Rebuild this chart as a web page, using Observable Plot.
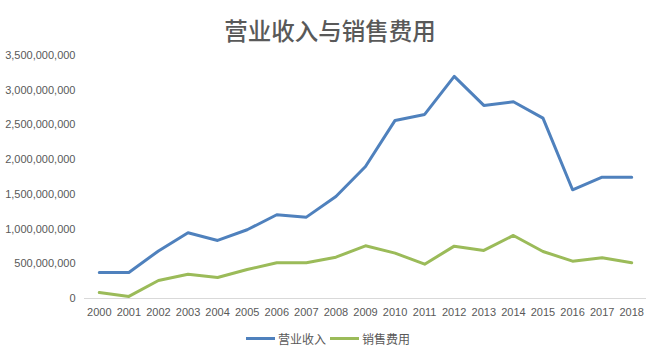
<!DOCTYPE html>
<html>
<head>
<meta charset="utf-8">
<script src="https://cdn.jsdelivr.net/npm/d3@7"></script>
<script src="https://cdn.jsdelivr.net/npm/@observablehq/plot@0.6"></script>
<style>
  html, body { margin: 0; padding: 0; background: #fff; }
  #wrap { width: 656px; height: 354px; position: relative; overflow: hidden; font-family: "Liberation Sans", "Noto Sans CJK SC", sans-serif; }
  #title { position: absolute; left: 0; top: 14px; width: 660px; text-align: center; font-family: "Noto Sans CJK SC", sans-serif; font-size: 23.5px; font-weight: 500; color: #595959; line-height: 32px; }
  #chart { position: absolute; left: 0; top: 45px; }
  #legend { position: absolute; left: 0; top: 330px; width: 656px; display: flex; justify-content: center; align-items: center; font-family: "Noto Sans CJK SC", sans-serif; font-size: 12px; color: #595959; }
  .item { display: flex; align-items: center; margin: 0 2px; }
  .sw { width: 29px; height: 3px; margin-right: 3px; }
</style>
</head>
<body>
<div id="wrap">
  <div id="title">营业收入与销售费用</div>
  <div id="chart"></div>
  <div id="legend"></div>
</div>
<script>
const years = ["2000","2001","2002","2003","2004","2005","2006","2007","2008","2009","2010","2011","2012","2013","2014","2015","2016","2017","2018"];
const seriesNames = ["营业收入", "销售费用"];
const revenue = [375e6, 375e6, 685e6, 947e6, 836e6, 990e6, 1206e6, 1172e6, 1470e6, 1902e6, 2565e6, 2651e6, 3199e6, 2781e6, 2834e6, 2598e6, 1566e6, 1748e6, 1748e6];
const salesExpense = [86e6, 30e6, 259e6, 350e6, 303e6, 418e6, 514e6, 514e6, 595e6, 759e6, 653e6, 494e6, 754e6, 692e6, 908e6, 677e6, 538e6, 586e6, 514e6];
const yTicks = [0, 5e8, 1e9, 1.5e9, 2e9, 2.5e9, 3e9, 3.5e9];
const colors = ["#4f81bd", "#9bbb59"];

const data = [];
years.forEach((y, i) => {
  data.push({year: y, value: revenue[i], series: seriesNames[0]});
  data.push({year: y, value: salesExpense[i], series: seriesNames[1]});
});

const chart = Plot.plot({
  width: 656,
  height: 280,
  marginLeft: 84,
  marginRight: 10,
  marginTop: 10,
  marginBottom: 27,
  style: {fontFamily: "Liberation Sans, sans-serif", fontSize: "11px", color: "#595959", background: "transparent"},
  x: {type: "point", domain: years, padding: 0.5, round: false, label: null, tickSize: 0, tickPadding: 10},
  y: {domain: [0, 3.5e9], ticks: yTicks, tickFormat: d3.format(","), label: null, tickSize: 0, tickPadding: 9},
  color: {domain: seriesNames, range: colors},
  marks: [
    Plot.ruleY([0], {stroke: "#d9d9d9", strokeWidth: 1}),
    Plot.line(data, {x: "year", y: "value", z: "series", stroke: "series", strokeWidth: 3, strokeLinejoin: "round", strokeLinecap: "round"})
  ]
});
chart.querySelectorAll("text").forEach(t => t.setAttribute("fill", "#595959"));
document.getElementById("chart").appendChild(chart);

const legend = document.getElementById("legend");
seriesNames.forEach((n, i) => {
  const it = document.createElement("div");
  it.className = "item";
  const sw = document.createElement("div");
  sw.className = "sw";
  sw.style.background = colors[i];
  const lb = document.createElement("span");
  lb.textContent = n;
  it.appendChild(sw);
  it.appendChild(lb);
  legend.appendChild(it);
});
</script>
</body>
</html>
